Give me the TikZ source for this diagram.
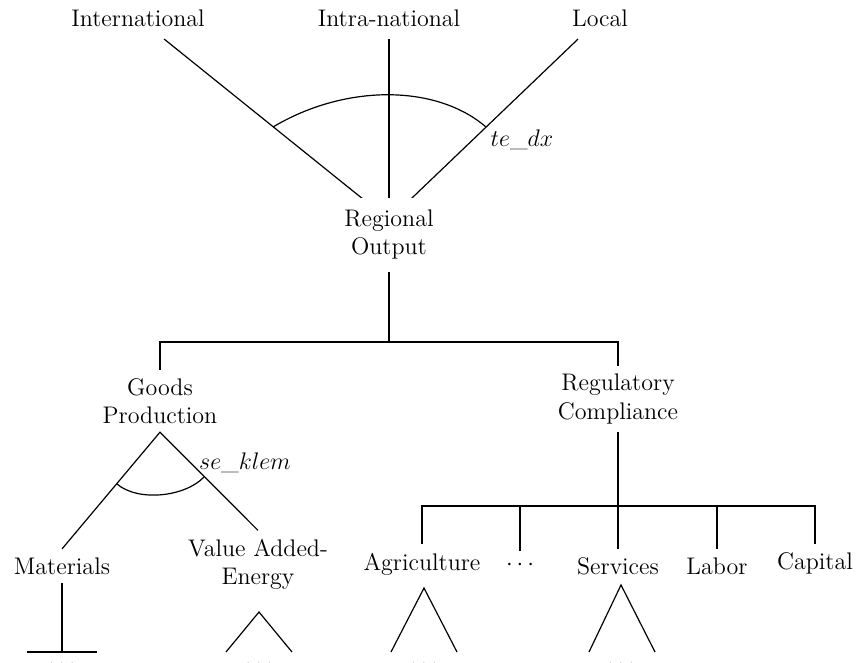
\documentclass[tikz,border=0pt]{standalone}
\usetikzlibrary{calc}
\begin{document}
\begin{tikzpicture}[x=0.5pt,y=-0.5pt,line width=0.6pt,
  lbl/.style={font=\large,inner sep=4pt},
  two/.style={lbl,align=center},
  toplbl/.style={lbl,inner ysep=6pt},
  dotsnode/.style={font=\large,inner sep=0pt}]
\useasboundingbox (0,0) rectangle (857,663);
% top level
\node[toplbl] (intl) at (138,18) {International};
\node[toplbl] (intra) at (389,18) {Intra-national};
\node[toplbl] (loc) at (600,18) {Local};
\coordinate (rotop) at (389,220);
\draw (intl) -- (rotop);
\draw (intra) -- (rotop);
\draw (loc) -- (rotop);
\node[two,fill=white,inner ysep=6pt] (ro) at (389,235) {Regional\\Output};
\draw (273,127) .. controls (345,84) and (436,84) .. (486,127);
\node[font=\large] (tedx) at (522,140) {$te\_dx$};
% second level
\coordinate (j1) at (389,342);
\node[two] (gp) at (160,401) {Goods\\Production};
\node[two] (rc) at (618,399) {Regulatory\\Compliance};
\draw (ro.south) -- (j1);
\draw (gp.north) |- (j1) -| (rc.north);
% goods production subtree
\node[lbl] (mat) at (62,566) {Materials};
\node[two] (vae) at (258,564) {Value Added-\\Energy};
\draw (mat.north) -- (gp.south) -- (vae.north);
\draw (117,484) .. controls (138,502) and (185,497) .. (204,477);
\node[font=\large] (sek) at (245,463) {$se\_klem$};
% regulatory compliance subtree
\coordinate (j2) at (618,506);
\draw[line width=1.2pt] (rc.south) -- (j2);
\node[lbl] (agr) at (422,564) {Agriculture};
\node[lbl] (dts) at (520,565) {$\cdots$};
\node[lbl] (srv) at (618,566) {Services};
\node[lbl] (lab) at (717,566) {Labor};
\node[lbl] (cap) at (815,563) {Capital};
\draw (agr.north) |- (j2) -| (cap.north);
\draw (dts.north) -- (dts.north |- j2);
\draw (srv.north) -- (j2);
\draw (lab.north) -- (lab.north |- j2);
% bottom roofs
\coordinate (mb) at (62,652);
\draw (mat.south) -- (mb);
\draw (27,652) -- (97,652);
\draw (226,652) -- (259,612) -- (292,652);
\draw (391,652) -- (424,588) -- (457,652);
\draw (589,652) -- (621,585) -- (655,652);
\node[dotsnode] (d1) at (62,664) {$\ldots$};
\node[dotsnode] (d2) at (259,664) {$\ldots$};
\node[dotsnode] (d3) at (424,664) {$\ldots$};
\node[dotsnode] (d4) at (621,664) {$\ldots$};
\end{tikzpicture}
\end{document}
